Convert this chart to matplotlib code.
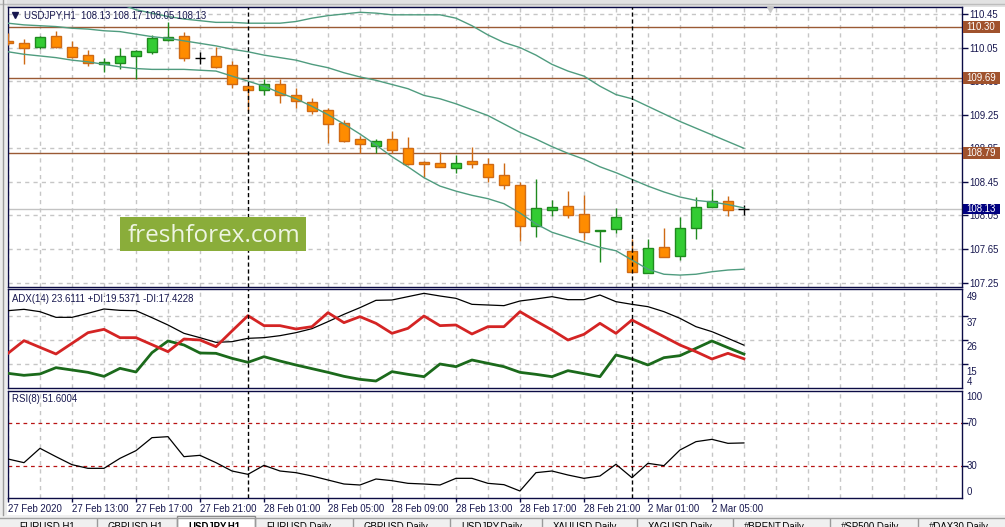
import numpy as np
import matplotlib
matplotlib.use("Agg")
import matplotlib.pyplot as plt
from matplotlib.patches import Rectangle
from matplotlib import transforms as mtrans

plt.rcParams['font.family'] = ['Liberation Sans', 'DejaVu Sans']

# ---------------- data ----------------
title_text = "USDJPY,H1  108.13 108.17 108.05 108.13"
adx_title = "ADX(14) 23.6111 +DI:19.5371 -DI:17.4228"
rsi_title = "RSI(8) 51.6004"
watermark = "freshforex.com"

opens = [110.13, 110.11, 110.06, 110.19, 110.06, 109.96, 109.86, 109.87, 109.95, 110.00,
         110.14, 110.19, 109.92, 109.95, 109.84, 109.59, 109.55, 109.62, 109.49, 109.40,
         109.31, 109.15, 108.96, 108.88, 108.96, 108.85, 108.69, 108.68, 108.62, 108.70,
         108.66, 108.53, 108.41, 107.93, 108.12, 108.16, 108.07, 107.86, 107.89, 107.63,
         107.37, 107.67, 107.57, 107.90, 108.15, 108.22, 108.13]
highs = [110.22, 110.15, 110.19, 110.25, 110.13, 110.02, 109.93, 110.04, 110.02, 110.20,
         110.36, 110.23, 110.00, 110.06, 109.89, 109.60, 109.68, 109.68, 109.57, 109.45,
         109.33, 109.19, 109.00, 108.96, 109.06, 108.99, 108.70, 108.80, 108.77, 108.87,
         108.73, 108.68, 108.45, 108.49, 108.23, 108.34, 108.29, 107.88, 108.14, 107.77,
         107.77, 107.90, 108.03, 108.27, 108.36, 108.28, 108.17]
lows = [110.08, 109.85, 110.03, 110.05, 109.93, 109.83, 109.76, 109.79, 109.68, 109.97,
        110.13, 109.89, 109.86, 109.81, 109.57, 109.29, 109.48, 109.39, 109.33, 109.26,
        108.91, 108.92, 108.79, 108.79, 108.79, 108.65, 108.51, 108.63, 108.55, 108.62,
        108.45, 108.37, 107.74, 107.79, 108.04, 108.02, 107.76, 107.50, 107.84, 107.38,
        107.37, 107.56, 107.52, 107.77, 108.15, 108.04, 108.05]
closes = [110.10, 110.05, 110.17, 110.06, 109.94, 109.87, 109.88, 109.95, 110.01, 110.16,
          110.17, 109.93, 109.92, 109.82, 109.61, 109.54, 109.62, 109.48, 109.41, 109.30,
          109.14, 108.94, 108.90, 108.94, 108.83, 108.66, 108.66, 108.63, 108.68, 108.66,
          108.51, 108.41, 107.92, 108.14, 108.15, 108.05, 107.85, 107.88, 108.03, 107.38,
          107.66, 107.56, 107.90, 108.15, 108.22, 108.12, 108.13]

band_upper = [110.68, 110.68, 110.67, 110.66, 110.64, 110.61, 110.58, 110.57, 110.50, 110.46,
              110.42, 110.39, 110.37, 110.35, 110.35, 110.34, 110.34, 110.34, 110.36, 110.40,
              110.43, 110.45, 110.47, 110.46, 110.44, 110.44, 110.44, 110.44, 110.40, 110.31,
              110.20, 110.11, 110.05, 109.96, 109.85, 109.77, 109.71, 109.59, 109.49, 109.44,
              109.35, 109.26, 109.17, 109.09, 109.01, 108.93, 108.85]
band_middle = [110.34, 110.32, 110.31, 110.30, 110.28, 110.27, 110.25, 110.24, 110.21, 110.18,
               110.16, 110.13, 110.10, 110.07, 110.03, 110.00, 109.96, 109.93, 109.90, 109.85,
               109.81, 109.75, 109.70, 109.66, 109.61, 109.56, 109.48, 109.44, 109.38, 109.31,
               109.24, 109.14, 109.04, 108.96, 108.87, 108.79, 108.72, 108.63, 108.56, 108.48,
               108.40, 108.33, 108.27, 108.23, 108.21, 108.18, 108.14]
band_lower = [110.00, 109.97, 109.95, 109.93, 109.90, 109.88, 109.85, 109.82, 109.80, 109.79,
              109.79, 109.79, 109.78, 109.77, 109.71, 109.65, 109.59, 109.51, 109.44, 109.35,
              109.25, 109.14, 109.02, 108.89, 108.75, 108.63, 108.50, 108.40, 108.34, 108.29,
              108.25, 108.19, 108.08, 107.95, 107.85, 107.79, 107.73, 107.67, 107.63, 107.52,
              107.41, 107.35, 107.34, 107.35, 107.38, 107.40, 107.41]

adx_main = [39.28, 39.89, 38.83, 36.25, 36.25, 38.07, 40.04, 39.43, 39.28, 36.10,
            32.77, 28.98, 27.01, 24.89, 25.19, 26.71, 27.01, 27.92, 29.28, 31.10,
            34.28, 37.62, 40.65, 43.98, 44.13, 45.65, 47.16, 45.95, 44.89, 42.16,
            41.86, 41.56, 43.68, 44.59, 45.65, 44.28, 44.28, 46.40, 43.37, 42.16,
            41.10, 38.83, 35.80, 32.01, 29.74, 26.71, 23.61]
adx_plus = [10.80, 9.89, 10.50, 13.37, 12.31, 11.25, 9.43, 13.07, 11.40, 20.19,
            25.50, 23.68, 20.04, 19.89, 17.62, 15.80, 18.37, 16.40, 14.59, 12.92,
            11.25, 9.43, 8.07, 7.31, 11.56, 10.34, 9.28, 15.04, 13.83, 16.86,
            15.34, 13.83, 11.25, 10.34, 9.28, 12.01, 10.65, 9.28, 19.13, 17.31,
            14.59, 17.92, 18.83, 22.16, 25.50, 22.47, 19.54]
adx_minus = [19.89, 25.65, 22.62, 19.59, 24.43, 29.28, 30.80, 27.01, 27.01, 23.83,
             20.65, 26.40, 25.95, 22.92, 30.04, 37.01, 32.47, 32.47, 30.95, 32.01,
             38.37, 33.83, 36.56, 33.53, 28.98, 31.25, 36.86, 32.47, 32.77, 28.68,
             32.01, 32.01, 38.83, 34.59, 30.50, 25.95, 28.53, 33.53, 28.98, 35.04,
             31.25, 27.47, 23.68, 20.65, 17.31, 19.89, 17.42]
rsi_values = [36.55, 33.12, 46.55, 38.74, 31.24, 27.81, 27.81, 37.18, 44.36, 56.54,
              57.47, 38.74, 39.99, 33.12, 25.31, 22.19, 30.62, 25.31, 23.75, 20.63,
              16.88, 13.13, 12.20, 17.82, 16.26, 13.76, 13.13, 12.20, 18.44, 18.44,
              13.76, 12.51, 6.58, 23.75, 25.31, 21.56, 18.44, 20.63, 31.56, 19.07,
              32.49, 30.31, 44.98, 52.79, 54.98, 51.23, 51.60]

levels = [110.30, 109.69, 108.79]
bid_price = 108.13
price_ticks = [110.45, 110.05, 109.65, 109.25, 108.85, 108.45, 108.05, 107.65, 107.25]
adx_ticks = [49, 37, 26, 15, 4]
adx_grid = [37, 26, 15]
rsi_ticks = [100, 70, 30, 0]
rsi_levels = [70, 30]
time_tick_idx = [0, 4, 8, 12, 16, 20, 24, 28, 32, 36, 40, 44]
time_labels = ["27 Feb 2020", "27 Feb 13:00", "27 Feb 17:00", "27 Feb 21:00",
               "28 Feb 01:00", "28 Feb 05:00", "28 Feb 09:00", "28 Feb 13:00",
               "28 Feb 17:00", "28 Feb 21:00", "2 Mar 01:00", "2 Mar 05:00"]
day_sep_idx = [15, 39]
tab_names = ["EURUSD,H1", "GBPUSD,H1", "USDJPY,H1", "EURUSD,Daily", "GBPUSD,Daily",
             "USDJPY,Daily", "XAUUSD,Daily", "XAGUSD,Daily", "#BRENT,Daily",
             "#SP500,Daily", "#DAX30,Daily"]
tab_edges = [8, 97, 177, 255, 353, 450, 542, 637, 733, 830, 918, 1005]
active_tab = 2

# ---------------- styles ----------------
NAVY = '#17174f'
FRAME = '#0b0b45'
GRID = '#c6c6c6'
BAND = '#4f9c7f'
BULL_FILL, BULL_EDGE = '#33cc33', '#1f8a1f'
BEAR_FILL, BEAR_EDGE = '#ff8c00', '#cf6a14'
LEVEL_LINE, LEVEL_TAG = '#9a5a34', '#a0522d'
FS = 6.9

W, H = 1005, 527
fig = plt.figure(figsize=(W / 100, H / 100), dpi=100)
fig.patch.set_facecolor('white')


def px_axes(l, t, r, b):
    return fig.add_axes([l / W, 1 - b / H, (r - l) / W, (b - t) / H])


bg = px_axes(0, 0, W, H)
bg.set_xlim(0, W); bg.set_ylim(H, 0); bg.axis('off'); bg.set_zorder(0)
# window frame pieces
bg.add_patch(Rectangle((0, 0), W, 6.5, color='#e2e2e2', lw=0))
bg.plot([0, W], [3.5, 3.5], color='#bdbdbd', lw=1)
bg.add_patch(Rectangle((0, 0), 6.5, 515, color='#ececec', lw=0))
bg.plot([3.2, 3.2], [0, 515], color='#9c9c9c', lw=1)
# tab strip
bg.add_patch(Rectangle((0, 515), W, 12, color='#f0f0f0', lw=0))
bg.plot([0, W], [517.5, 517.5], color='#a0a0a0', lw=1)
a0, a1 = tab_edges[active_tab], tab_edges[active_tab + 1]
bg.add_patch(Rectangle((a0, 515.5), a1 - a0, 12, facecolor='white', edgecolor='#8a8a8a', lw=1))
for e in tab_edges[1:-1]:
    bg.plot([e, e], [519, 527], color='#9a9a9a', lw=1)
for k, name in enumerate(tab_names):
    bg.text(tab_edges[k] + 11, 521.5, name, fontsize=FS, color='black', va='top', ha='left',
            fontweight='bold' if k == active_tab else 'normal')

ax = px_axes(7.5, 7, 962, 287)
ax_adx = px_axes(7.5, 289, 962, 388)
ax_rsi = px_axes(7.5, 391, 962, 498)

x_left, x_right = -0.03, 59.63
n = len(opens)
idx = np.arange(n)

for a in (ax, ax_adx, ax_rsi):
    a.set_zorder(1)
    a.set_facecolor('white')
    a.set_xlim(x_left, x_right)
    for s in a.spines.values():
        s.set_color(FRAME)
        s.set_linewidth(1)
    a.yaxis.tick_right()
    a.tick_params(axis='y', direction='out', length=4, width=1, color=FRAME,
                  labelsize=FS, labelcolor=NAVY, pad=1.5)
    for gx in range(0, 60, 2):
        a.axvline(gx, color=GRID, lw=1, dashes=(3, 3), zorder=0.5)
    for d in day_sep_idx:
        a.axvline(d, color='black', lw=1, dashes=(3, 2), zorder=6)

# ---------------- main chart ----------------
ax.set_ylim(107.198, 110.533)
ax.set_xticks([])
ax.set_yticks(price_ticks)
ax.set_yticklabels([f"{p:.2f}" for p in price_ticks])
for p in price_ticks:
    ax.axhline(p, color=GRID, lw=1, dashes=(3, 3), zorder=0.5)
ax.axhline(bid_price, color='#c3c3c3', lw=1, zorder=0.8)
for lv in levels:
    ax.axhline(lv, color=LEVEL_LINE, lw=1, zorder=1)

o = np.array(opens); c = np.array(closes); hi = np.array(highs); lo = np.array(lows)
bull = c > o + 1e-9
bear = c < o - 1e-9
doji = ~(bull | bear)
ax.vlines(idx[bull], lo[bull], hi[bull], color=BULL_EDGE, lw=1, zorder=3)
ax.vlines(idx[bear], lo[bear], hi[bear], color=BEAR_EDGE, lw=1, zorder=3)
ax.vlines(idx[doji], lo[doji], hi[doji], color='black', lw=1, zorder=3)
bw = 0.62
ax.bar(idx[bull], (c - o)[bull], bottom=o[bull], width=bw, color=BULL_FILL,
       edgecolor=BULL_EDGE, lw=1, zorder=4)
ax.bar(idx[bear], (o - c)[bear], bottom=c[bear], width=bw, color=BEAR_FILL,
       edgecolor=BEAR_EDGE, lw=1, zorder=4)
ax.hlines(o[doji], idx[doji] - 0.34, idx[doji] + 0.34, color='black', lw=1, zorder=4)

for band in (band_upper, band_middle, band_lower):
    ax.plot(idx, band, color=BAND, lw=1, zorder=5)

# ---------------- ADX ----------------
ax_adx.set_ylim(4.13, 49.13)
ax_adx.set_xticks([])
ax_adx.set_yticks(adx_grid)
ax_adx.set_yticklabels([])
for g in adx_grid:
    ax_adx.axhline(g, color=GRID, lw=1, dashes=(3, 3), zorder=0.5)
ax_adx.plot(idx, adx_main, color='black', lw=0.9, zorder=3)
ax_adx.plot(idx, adx_plus, color='#1b6a1b', lw=2, zorder=3)
ax_adx.plot(idx, adx_minus, color='#d42424', lw=2, zorder=4)
for t in adx_ticks:
    dy = 6.6 if t == adx_ticks[-1] else -7.6
    ax_adx.annotate(str(t), xy=(1, t), xycoords=('axes fraction', 'data'),
                    xytext=(4.5 * 0.72, dy * 0.72), textcoords='offset points',
                    fontsize=FS, color=NAVY, va='center', ha='left', annotation_clip=False)

# ---------------- RSI ----------------
ax_rsi.set_ylim(0.02, 100.25)
ax_rsi.set_yticks(rsi_levels)
ax_rsi.set_yticklabels([])
for lv in rsi_levels:
    ax_rsi.axhline(lv, color='#b81414', lw=0.9, dashes=(3, 3), zorder=2)
ax_rsi.plot(idx, rsi_values, color='black', lw=0.9, zorder=3)
for t in rsi_ticks:
    dy = {100: -6.0, 0: 6.3}.get(t, 0)
    ax_rsi.annotate(str(t), xy=(1, t), xycoords=('axes fraction', 'data'),
                    xytext=(4.5 * 0.72, dy * 0.72), textcoords='offset points',
                    fontsize=FS, color=NAVY, va='center', ha='left', annotation_clip=False)
ax_rsi.set_xticks(time_tick_idx)
ax_rsi.set_xticklabels(time_labels, ha='left')
ax_rsi.tick_params(axis='x', direction='out', length=3, width=1, color=FRAME,
                   labelsize=FS, labelcolor=NAVY, pad=1.5)

# ---------------- overlay ----------------
ov = px_axes(0, 0, W, H)
ov.set_xlim(0, W); ov.set_ylim(H, 0); ov.axis('off'); ov.set_zorder(5)

blend = mtrans.blended_transform_factory(ov.transData, ax.transData)
tag_h = 12 / 83.96
for lv in levels:
    ov.add_patch(Rectangle((963, lv - tag_h / 2), 37, tag_h, transform=blend,
                           facecolor=LEVEL_TAG, edgecolor='none', clip_on=False))
    ov.text(966, lv, f"{lv:.2f}", transform=blend, color='white', fontsize=FS,
            va='center', ha='left', clip_on=False)
ov.add_patch(Rectangle((963, bid_price - 10 / 83.96 / 2), 37, 10 / 83.96, transform=blend,
                       facecolor='#000080', edgecolor='none', clip_on=False))
ov.text(966, bid_price, f"{bid_price:.2f}", transform=blend, color='white', fontsize=FS,
        va='center', ha='left', clip_on=False)

ov.plot([14.5], [15], marker='v', color=NAVY, markersize=4.5)
ov.text(23.5, 15.5, title_text, fontsize=FS, color=NAVY, va='center', ha='left')
ov.text(12.5, 299, adx_title, fontsize=FS, color=NAVY, va='center', ha='left')
ov.text(12.5, 399.5, rsi_title, fontsize=FS, color=NAVY, va='center', ha='left')
ov.plot([770], [9], marker='v', color='#c8c8c8', markersize=5)

ov.add_patch(Rectangle((120, 217), 186, 34, facecolor='#8aad3a', edgecolor='none'))
ov.text(128, 242.5, watermark, fontsize=17.5, color='#eef5e2', va='baseline', ha='left',
        family=['Open Sans', 'DejaVu Sans'])

fig.savefig('out.png', dpi=100, facecolor='white')
